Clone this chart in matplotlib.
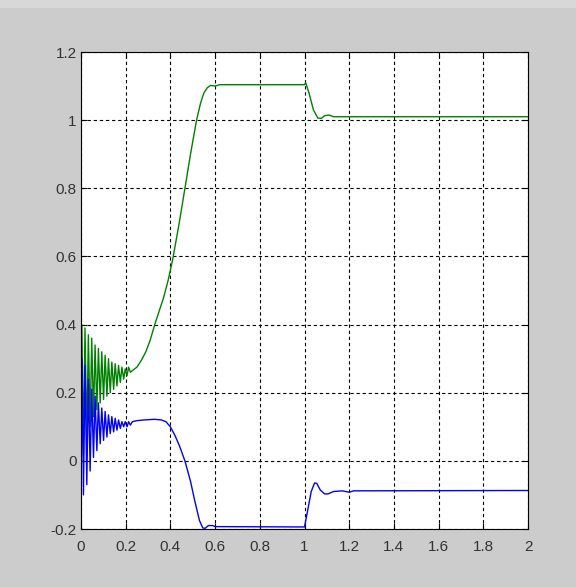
import numpy as np
import matplotlib.pyplot as plt
from matplotlib.patches import Rectangle

# ====================================================
# green trace (time, value)
green_t = [0.000, 0.004, 0.011, 0.018, 0.026, 0.033, 0.041, 0.048, 0.056, 0.063,
           0.071, 0.078, 0.086, 0.093, 0.101, 0.108, 0.116, 0.123, 0.131, 0.138,
           0.146, 0.153, 0.161, 0.168, 0.176, 0.183, 0.191, 0.198, 0.206, 0.213,
           0.221, 0.230, 0.250, 0.270, 0.290, 0.310, 0.330, 0.350, 0.370, 0.390,
           0.410, 0.440, 0.465, 0.490, 0.517, 0.535, 0.550, 0.565, 0.580, 0.600,
           0.620, 1.000, 1.005, 1.020, 1.040, 1.060, 1.075, 1.090, 1.110, 1.130,
           2.000]
green_y = [0.20, 0.40, 0.02, 0.39, 0.06, 0.37, 0.10, 0.36, 0.13, 0.34,
           0.15, 0.33, 0.17, 0.32, 0.18, 0.31, 0.19, 0.30, 0.20, 0.29,
           0.21, 0.285, 0.22, 0.28, 0.23, 0.275, 0.24, 0.27, 0.25, 0.275,
           0.26, 0.265, 0.275, 0.295, 0.32, 0.355, 0.40, 0.44, 0.48, 0.53,
           0.59, 0.70, 0.80, 0.90, 1.00, 1.05, 1.08, 1.095, 1.102, 1.10,
           1.104, 1.104, 1.11, 1.08, 1.03, 1.006, 1.005, 1.013, 1.015, 1.01,
           1.01]

# blue trace (time, value)
blue_t = [0.000, 0.005, 0.011, 0.018, 0.026, 0.033, 0.041, 0.048, 0.056, 0.063,
          0.071, 0.078, 0.086, 0.093, 0.101, 0.108, 0.116, 0.123, 0.131, 0.138,
          0.146, 0.153, 0.161, 0.168, 0.176, 0.183, 0.191, 0.198, 0.206, 0.213,
          0.221, 0.230, 0.250, 0.280, 0.330, 0.360, 0.380, 0.400, 0.420, 0.440,
          0.465, 0.490, 0.510, 0.530, 0.545, 0.555, 0.570, 0.590, 0.600, 1.000,
          1.010, 1.030, 1.045, 1.055, 1.070, 1.090, 1.105, 1.130, 1.170, 1.200,
          1.220, 2.000]
blue_y = [-0.13, 0.30, -0.10, 0.28, -0.07, 0.24, -0.03, 0.21, 0.01, 0.19,
          0.03, 0.17, 0.05, 0.155, 0.06, 0.145, 0.07, 0.135, 0.08, 0.13,
          0.085, 0.125, 0.09, 0.12, 0.095, 0.115, 0.10, 0.115, 0.10, 0.115,
          0.105, 0.115, 0.118, 0.12, 0.122, 0.12, 0.115, 0.10, 0.075, 0.045,
          0.0, -0.06, -0.12, -0.175, -0.197, -0.198, -0.19, -0.19, -0.193, -0.194,
          -0.16, -0.09, -0.065, -0.066, -0.085, -0.097, -0.097, -0.09, -0.088, -0.092,
          -0.088, -0.087]

x_ticks = [0, 0.2, 0.4, 0.6, 0.8, 1, 1.2, 1.4, 1.6, 1.8, 2]
x_labels = ['0', '0.2', '0.4', '0.6', '0.8', '1', '1.2', '1.4', '1.6', '1.8', '2']
y_ticks = [-0.2, 0, 0.2, 0.4, 0.6, 0.8, 1, 1.2]
y_labels = ['-0.2', '0', '0.2', '0.4', '0.6', '0.8', '1', '1.2']

# ====================================================
def main():
	plt.rcParams['font.family'] = ['Liberation Sans', 'DejaVu Sans']

	fig = plt.figure(figsize=(5.76, 5.87), dpi=100, facecolor='#cccccc')
	fig.patches.append(Rectangle((0, 0.986), 1, 0.014, transform=fig.transFigure,
	                             facecolor='#d8d8d8', edgecolor='none'))
	ax = fig.add_axes([0.1406, 0.0988, 0.7761, 0.8126])

	ax.plot(green_t, green_y, color='#008000', lw=1.0)
	ax.plot(blue_t, blue_y, color='#0000ff', lw=1.0)

	ax.set_xlim(0, 2)
	ax.set_ylim(-0.2, 1.2)
	ax.set_xticks(x_ticks)
	ax.set_xticklabels(x_labels)
	ax.set_yticks(y_ticks)
	ax.set_yticklabels(y_labels)

	ax.grid(True, color='black', linestyle=(0, (3, 2.5)), linewidth=0.8)
	ax.tick_params(direction='in', length=4, width=0.8, top=True, right=True,
	               labelsize=11, colors='black', labelcolor='#333333')
	ax.tick_params(axis='x', pad=8)
	ax.tick_params(axis='y', pad=3)
	for s in ax.spines.values():
		s.set_linewidth(0.8)

	fig.savefig('out.png', dpi=100, facecolor=fig.get_facecolor())

# ====================================================
if __name__ == "__main__":
	main()
